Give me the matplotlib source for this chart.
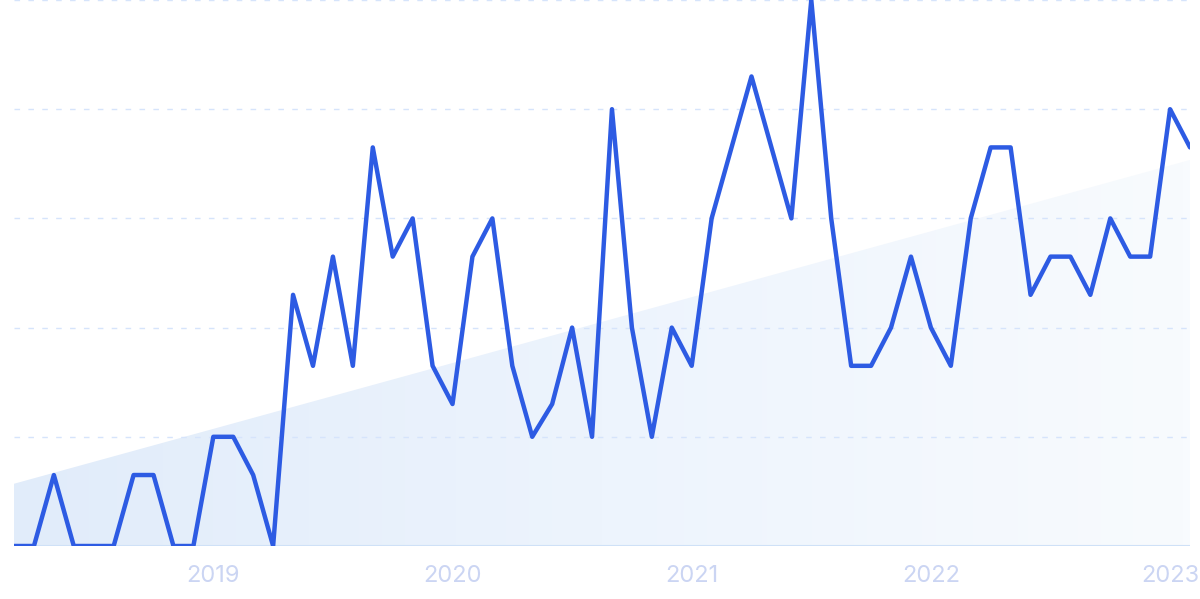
import matplotlib

matplotlib.use("Agg")

import matplotlib.pyplot as plt
import numpy as np
from matplotlib.colors import LinearSegmentedColormap

# monthly values, Mar 2018 .. Feb 2023 (0-100 scale)
values = [
    0, 0, 13, 0, 0, 0, 13, 13, 0, 0,
    20, 20, 13, 0, 46, 33, 53, 33, 73, 53,
    60, 33, 26, 53, 60, 33, 20, 26, 40, 20,
    80, 40, 20, 40, 33, 60, 73, 86, 73, 60,
    100, 60, 33, 33, 40, 53, 40, 33, 60, 73,
    73, 46, 53, 53, 46, 60, 53, 53, 80, 73,
]
trend_start = 11.4
trend_end = 70.7
year_labels = ["2019", "2020", "2021", "2022", "2023"]
year_index = [10, 22, 34, 46, 58]

LINE_COLOR = "#2d5be3"
TICK_COLOR = "#cbd5f3"
GRID_COLOR = "#d6e4fb"

x = np.arange(len(values))
trend = np.linspace(trend_start, trend_end, len(values))

fig = plt.figure(figsize=(12, 5.99), dpi=100)
ax = fig.add_axes([14 / 1200, 53 / 599, 1176 / 1200, 546 / 599])
ax.set_xlim(0, len(values) - 1)
ax.set_ylim(0, 100)

# trend area with a left-to-right fading gradient
poly = ax.fill_between(x, 0, trend, color="none", lw=0)
cmap = LinearSegmentedColormap.from_list("fade", ["#e1ecfa", "#edf4fd", "#f8fbfe"])
grad = np.tile(np.linspace(0, 1, 256), (2, 1))
img = ax.imshow(grad, cmap=cmap, aspect="auto", extent=[0, len(values) - 1, 0, 100],
                zorder=0, interpolation="bilinear")
img.set_clip_path(poly.get_paths()[0], transform=ax.transData)

for gy in [20, 40, 60, 80, 100]:
    ax.axhline(gy, color=GRID_COLOR, lw=1, ls=(0, (4, 6)), zorder=1)
ax.axhline(0, color="#cfe1f7", lw=1.5, zorder=1)

ax.plot(x, values, color=LINE_COLOR, lw=3.2, solid_joinstyle="round",
        solid_capstyle="round", zorder=3)

for spine in ax.spines.values():
    spine.set_visible(False)
ax.set_yticks([])
ax.set_xticks(year_index)
ax.set_xticklabels(year_labels, color=TICK_COLOR, fontsize=17, family="Inter")
ax.tick_params(axis="x", length=0, pad=14)

fig.savefig("out.png", dpi=100)
